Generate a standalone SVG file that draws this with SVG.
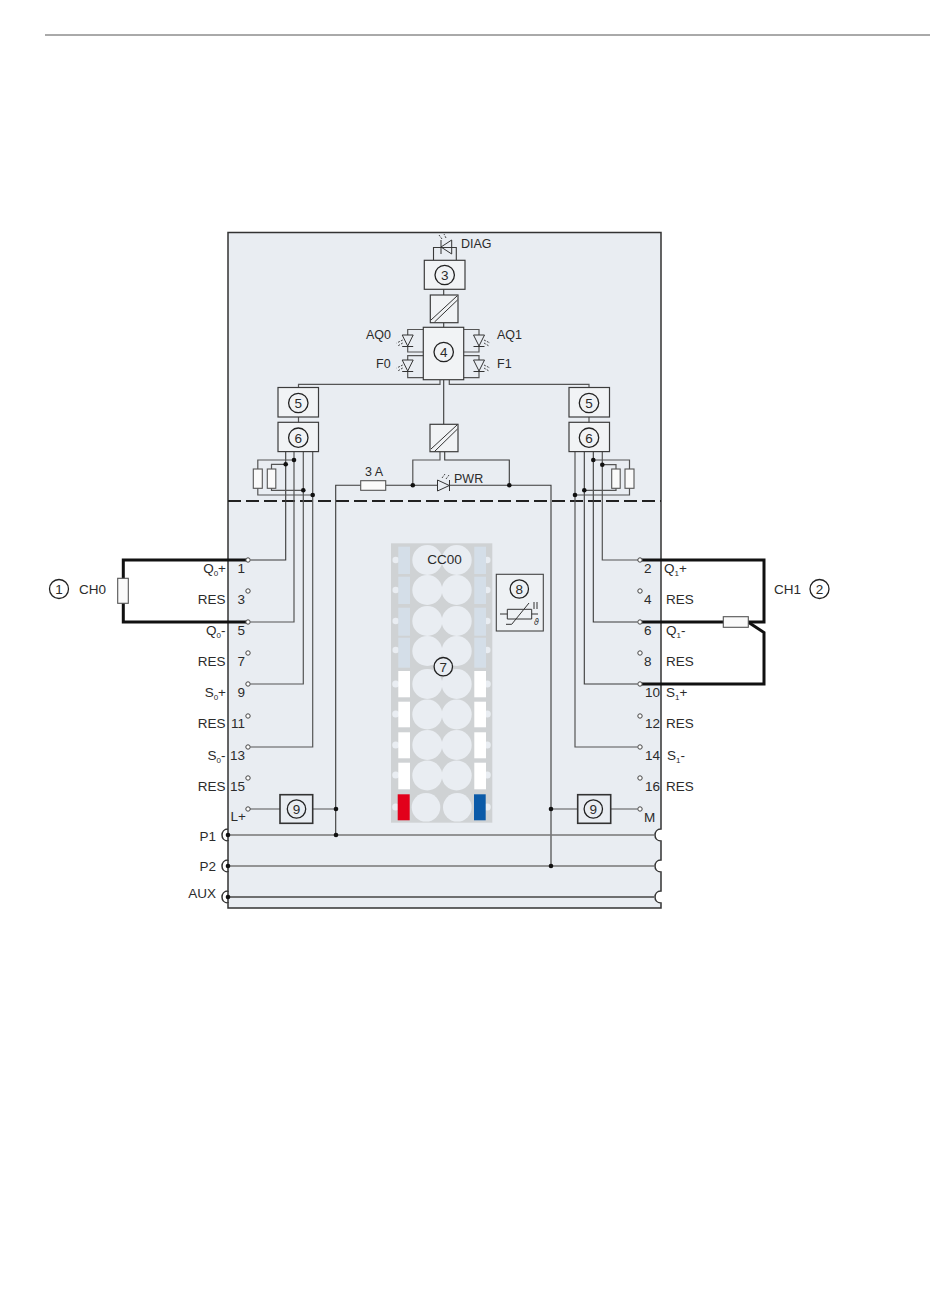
<svg xmlns="http://www.w3.org/2000/svg" width="950" height="1301" viewBox="0 0 950 1301">
<style>
text{font-family:"Liberation Sans",Arial,sans-serif;font-size:13.5px;fill:#2b2b2b}
.e{text-anchor:end}.m{text-anchor:middle}
.sub{font-size:8px}
.box{fill:#f1f3f5;stroke:#3c3c3c;stroke-width:1.2}
.box2{fill:#e9edf2;stroke:#333;stroke-width:1.6}
.w{fill:none;stroke:#555;stroke-width:1.2}
.wd{fill:none;stroke:#3a3a3a;stroke-width:1.1}
.bus{fill:none;stroke:#777;stroke-width:1.6}
.thick{fill:none;stroke:#111;stroke-width:3}
.num{fill:none;stroke:#222;stroke-width:1.3}
.dot{fill:#111}
.t{fill:#fff;stroke:#444;stroke-width:1}
.r{fill:#fafafa;stroke:#555;stroke-width:1.1}
.cc{fill:#e9edf2}
.bb{fill:#d4dee8}
.wb{fill:#fff}
.sym{fill:none;stroke:#333;stroke-width:1}
.ray{fill:none;stroke:#444;stroke-width:1;stroke-dasharray:2 1.2}
</style>
<defs>
<g id="led-l"><path class="sym" d="M-5.500 0H5.500L0 11ZM-5.500 11.500H5.500"/><path class="ray" d="M-5 5l-6 3M-5 8l-5 3"/></g>
<g id="led-r"><path class="sym" d="M-5.500 0H5.500L0 11ZM-5.500 11.500H5.500"/><path class="ray" d="M5 5l6 3M5 8l5 3"/></g>
</defs>
<rect width="950" height="1301" fill="#fff"/>
<path d="M45 35H930" stroke="#555" stroke-width="1" fill="none"/>

<g id="module">
<path d="M228 232.500H661V829C654 829 654 841 661 841V860C654 860 654 872 661 872V891C654 891 654 903 661 903V908H228V903C221 903 221 891 228 891V872C221 872 221 860 228 860V841C221 841 221 829 228 829Z" fill="#e9edf2"/>
<path d="M661 829C652.500 829 652.500 841 661 841M661 860C652.500 860 652.500 872 661 872M661 891C652.500 891 652.500 903 661 903" fill="#fff" stroke="none"/>
<path d="M228 829C220 829 220 841 228 841M228 860C220 860 220 872 228 872M228 891C220 891 220 903 228 903" fill="#fff" stroke="none"/>
<path d="M228 829V232.500H661V829C653 829 653 841 661 841V860C653 860 653 872 661 872V891C653 891 653 903 661 903V908H228V903C220 903 220 891 228 891V872C220 872 220 860 228 860V841C220 841 220 829 228 829" fill="none" stroke="#333" stroke-width="1.5"/>
<path d="M228 829V841M228 860V872M228 891V903" stroke="#333" stroke-width="1.5" fill="none"/>
<path d="M228 501H661" stroke="#222" stroke-width="2" stroke-dasharray="13 5" fill="none"/>
</g>

<g id="connectors">
<path class="thick" d="M248 560H123.300V622H248"/>
<path class="thick" d="M640 560H764V622H640"/>
<path class="thick" d="M748 622L764 632.500V684H640"/>
<path class="wd" d="M285.700 451.500V560H250.500"/>
<path class="w" d="M294 451.500V622H250.500"/>
<path class="w" d="M303.300 451.500V684H250.500"/>
<path class="w" d="M312.700 451.500V747H250.500"/>
<path class="w" d="M294 460H257.800V469M257.800 488V495H312.700"/>
<path class="w" d="M285.700 464.300H271.500V469M271.500 488V490.300H303.300"/>
<path class="w" d="M602.300 451.500V560H642.500"/>
<path class="wd" d="M593.300 451.500V622H637.500"/>
<path class="wd" d="M584.300 451.500V684H637.500"/>
<path class="w" d="M575 451.500V747H637.500"/>
<path class="w" d="M593.300 460H629.500V469M629.500 488V495H575"/>
<path class="w" d="M602.300 464.700H616V469M616 488V490.300H584.300"/>
<path class="wd" d="M443.700 289V295M443.700 322.700V327.500M443.700 380V424.300M433.500 260V247.500H456.300V260"/>
<path class="w" d="M423.500 329.500H407.700V335M407.700 347V352H423.500M423.500 355.700H407.700V360M407.700 371V377.700H423.500"/>
<path class="w" d="M463.700 329.500H479V335M479 347V352H463.700M463.700 355.700H479V360M479 371V377.700H463.700"/>
<path class="w" d="M440 380V384.300H298.500V388M449.300 380V384.300H589V388M298.500 417V422.300M589 417V422.300"/>
<path class="w" d="M440 451.500V460H412.800V485.300"/>
<path class="wd" d="M444.700 451.500V460H509.300V485.300"/>
<path class="wd" d="M335.700 835V485.300H361M385.700 485.300H437.500M449.500 485.300H551V866"/>
<path class="w" d="M250 809H280M312.700 809H336"/>
<path class="w" d="M551 809H577.700M610.700 809H637.500"/>
<path class="bus" d="M228 835H654M228 866H654"/>
<path d="M228 897H654" fill="none" stroke="#444" stroke-width="1.600"/>
<circle class="dot" cx="285.700" cy="464.300" r="2.300"/><circle class="dot" cx="294" cy="460" r="2.300"/><circle class="dot" cx="303.300" cy="490.300" r="2.300"/><circle class="dot" cx="312.700" cy="495" r="2.300"/>
<circle class="dot" cx="593.300" cy="460" r="2.300"/><circle class="dot" cx="602.300" cy="464.700" r="2.300"/><circle class="dot" cx="584.300" cy="490.300" r="2.300"/><circle class="dot" cx="575" cy="495" r="2.300"/>
<circle class="dot" cx="412.800" cy="485.300" r="2.300"/><circle class="dot" cx="509.300" cy="485.300" r="2.300"/>
<circle class="dot" cx="336" cy="809" r="2.300"/><circle class="dot" cx="336" cy="835" r="2.300"/><circle class="dot" cx="551" cy="809" r="2.300"/><circle class="dot" cx="551" cy="866" r="2.300"/>
<circle class="dot" cx="228" cy="835" r="2.300"/><circle class="dot" cx="228" cy="866" r="2.300"/><circle class="dot" cx="228" cy="897" r="2.300"/>
</g>

<g id="terminals-left">
<circle class="t" cx="248" cy="560" r="2.200"/><circle class="t" cx="248" cy="591" r="2.200"/><circle class="t" cx="248" cy="622" r="2.200"/><circle class="t" cx="248" cy="653" r="2.200"/><circle class="t" cx="248" cy="684" r="2.200"/><circle class="t" cx="248" cy="716" r="2.200"/><circle class="t" cx="248" cy="747" r="2.200"/><circle class="t" cx="248" cy="778" r="2.200"/><circle class="t" cx="248" cy="809" r="2.200"/>
<text class="e" x="245" y="573">1</text><text class="e" x="245" y="604">3</text><text class="e" x="245" y="635">5</text><text class="e" x="245" y="666">7</text><text class="e" x="245" y="697">9</text><text class="e" x="245" y="728">11</text><text class="e" x="245" y="760">13</text><text class="e" x="245" y="791">15</text>
<text x="230.500" y="821">L+</text>
<text class="e" x="226" y="573">Q<tspan class="sub" dy="3">0</tspan><tspan dy="-3">+</tspan></text>
<text class="e" x="225.500" y="604">RES</text>
<text class="e" x="225.500" y="635">Q<tspan class="sub" dy="3">0</tspan><tspan dy="-3">-</tspan></text>
<text class="e" x="225.500" y="666">RES</text>
<text class="e" x="226" y="697">S<tspan class="sub" dy="3">0</tspan><tspan dy="-3">+</tspan></text>
<text class="e" x="225.500" y="728">RES</text>
<text class="e" x="225.500" y="760">S<tspan class="sub" dy="3">0</tspan><tspan dy="-3">-</tspan></text>
<text class="e" x="225.500" y="791">RES</text>
<text class="e" x="216" y="841">P1</text><text class="e" x="216" y="871">P2</text><text class="e" x="216" y="898">AUX</text>
</g>

<g id="terminals-right">
<circle class="t" cx="640" cy="560" r="2.200"/><circle class="t" cx="640" cy="591" r="2.200"/><circle class="t" cx="640" cy="622" r="2.200"/><circle class="t" cx="640" cy="653" r="2.200"/><circle class="t" cx="640" cy="684" r="2.200"/><circle class="t" cx="640" cy="716" r="2.200"/><circle class="t" cx="640" cy="747" r="2.200"/><circle class="t" cx="640" cy="778" r="2.200"/><circle class="t" cx="640" cy="809" r="2.200"/>
<text x="644" y="573">2</text><text x="644" y="604">4</text><text x="644" y="635">6</text><text x="644" y="666">8</text><text x="645" y="697">10</text><text x="645" y="728">12</text><text x="645" y="760">14</text><text x="645" y="791">16</text>
<text x="644" y="821.500">M</text>
<text x="664" y="573">Q<tspan class="sub" dy="3">1</tspan><tspan dy="-3">+</tspan></text>
<text x="666" y="604">RES</text>
<text x="666" y="635">Q<tspan class="sub" dy="3">1</tspan><tspan dy="-3">-</tspan></text>
<text x="666" y="666">RES</text>
<text x="666" y="697">S<tspan class="sub" dy="3">1</tspan><tspan dy="-3">+</tspan></text>
<text x="666" y="728">RES</text>
<text x="667" y="760">S<tspan class="sub" dy="3">1</tspan><tspan dy="-3">-</tspan></text>
<text x="666" y="791">RES</text>
</g>

<g id="ch0"><circle class="num" cx="59" cy="589" r="9.500"/><text class="m" x="59" y="594">1</text><text x="79" y="594">CH0</text><rect class="r" x="117.700" y="578.300" width="10.600" height="25"/></g>
<g id="ch1"><text x="774" y="594">CH1</text><circle class="num" cx="819.500" cy="589" r="9.500"/><text class="m" x="819.500" y="594">2</text><rect class="r" x="723.300" y="616.700" width="25" height="10.600"/></g>

<g id="diag"><path class="sym" d="M451.700 240V254L441 247ZM441 240V254"/><path class="ray" d="M442 239l-3 -4M446 238l-2 -4"/><text x="461" y="248" font-size="12.500" style="font-size:12.500px">DIAG</text></g>
<g id="node-3"><rect class="box" x="424.300" y="260.300" width="40.700" height="29"/><circle class="num" cx="444.700" cy="275" r="9.700"/><text class="m" x="444.700" y="280">3</text></g>
<g id="conv-1"><rect class="box" x="430.300" y="295" width="27.700" height="27.700"/><path class="sym" d="M431 320L457 296M434.500 322L457.500 300"/></g>
<g id="node-4"><rect class="box" x="423.300" y="327.300" width="40.400" height="52.400"/><circle class="num" cx="443.700" cy="352" r="9.700"/><text class="m" x="443.700" y="357">4</text></g>
<g id="leds">
<use href="#led-l" x="407.700" y="335"/><use href="#led-l" x="407.700" y="360"/><use href="#led-r" x="479" y="335"/><use href="#led-r" x="479" y="360"/>
<text style="font-size:12.500px" x="366" y="339">AQ0</text><text style="font-size:12.500px" x="376" y="368">F0</text><text style="font-size:12.500px" x="497" y="339">AQ1</text><text style="font-size:12.500px" x="497" y="368">F1</text>
</g>
<g id="node-5-l"><rect class="box" x="278" y="387.500" width="40.500" height="29.500"/><circle class="num" cx="298.300" cy="403" r="9.700"/><text class="m" x="298.300" y="408">5</text></g>
<g id="node-6-l"><rect class="box" x="278" y="422.300" width="40.500" height="29.300"/><circle class="num" cx="298.300" cy="437.700" r="9.700"/><text class="m" x="298.300" y="442.700">6</text></g>
<g id="node-5-r"><rect class="box" x="569" y="387.500" width="40.500" height="29.500"/><circle class="num" cx="589" cy="403" r="9.700"/><text class="m" x="589" y="408">5</text></g>
<g id="node-6-r"><rect class="box" x="569" y="422.300" width="40.500" height="29.300"/><circle class="num" cx="589" cy="437.700" r="9.700"/><text class="m" x="589" y="442.700">6</text></g>
<g id="resistors-l"><rect class="r" x="253.300" y="469" width="9" height="19.300"/><rect class="r" x="267.300" y="469" width="8.500" height="19.300"/></g>
<g id="resistors-r"><rect class="r" x="611.700" y="469" width="8.500" height="19.300"/><rect class="r" x="625" y="469" width="9" height="19.300"/></g>
<g id="conv-2"><rect class="box" x="430" y="424.300" width="28" height="27.400"/><path class="sym" d="M431 449L457 425M434.500 451.500L457.500 429"/></g>
<g id="fuse"><rect class="r" x="360.700" y="480.700" width="25" height="9.600"/><text class="m" x="374" y="476" style="font-size:12.500px">3 A</text></g>
<g id="pwr"><path class="sym" d="M437.500 480V491L449.300 485.500ZM449.500 480V491"/><path class="ray" d="M442 478l3 -4M446 479l3 -4"/><text x="454" y="483" style="font-size:12.500px">PWR</text></g>

<g id="node-7">
<rect x="391" y="543.300" width="101.300" height="279.400" fill="#cfd2d4"/>
<g class="cc">
<circle cx="395.700" cy="560" r="3.200"/><circle cx="395.700" cy="590" r="3.200"/><circle cx="395.700" cy="621" r="3.200"/><circle cx="395.700" cy="650" r="3.200"/><circle cx="395.700" cy="684" r="3.500"/><circle cx="395.700" cy="714" r="3.500"/><circle cx="395.700" cy="745" r="3.500"/><circle cx="395.700" cy="775" r="3.500"/><circle cx="395.700" cy="807" r="3.500"/>
<circle cx="487.300" cy="560" r="3.200"/><circle cx="487.300" cy="590" r="3.200"/><circle cx="487.300" cy="621" r="3.200"/><circle cx="487.300" cy="650" r="3.200"/><circle cx="487.300" cy="684" r="3.500"/><circle cx="487.300" cy="714" r="3.500"/><circle cx="487.300" cy="745" r="3.500"/><circle cx="487.300" cy="775" r="3.500"/><circle cx="487.300" cy="807" r="3.500"/>
<circle cx="427.300" cy="560" r="15"/><circle cx="456.700" cy="560" r="15"/><circle cx="427.300" cy="590" r="15"/><circle cx="456.700" cy="590" r="15"/><circle cx="427.300" cy="621" r="15"/><circle cx="456.700" cy="621" r="15"/><circle cx="427.300" cy="651" r="15"/><circle cx="456.700" cy="651" r="15"/><circle cx="427.300" cy="684" r="15"/><circle cx="456.700" cy="684" r="15"/><circle cx="427.300" cy="714.500" r="15"/><circle cx="456.700" cy="714.500" r="15"/><circle cx="427.300" cy="745" r="15"/><circle cx="456.700" cy="745" r="15"/><circle cx="427.300" cy="775.500" r="15"/><circle cx="456.700" cy="775.500" r="15"/><circle cx="426" cy="807.300" r="14.300"/><circle cx="457.300" cy="807.300" r="14.300"/>
</g>
<g class="bb">
<rect x="398.300" y="546.700" width="11.700" height="27.300"/><rect x="398.300" y="576.700" width="11.700" height="27.300"/><rect x="398.300" y="607.700" width="11.700" height="28"/><rect x="398.300" y="637.700" width="11.700" height="30"/>
<rect x="474.300" y="546.700" width="11.700" height="27.300"/><rect x="474.300" y="576.700" width="11.700" height="27.300"/><rect x="474.300" y="607.700" width="11.700" height="28"/><rect x="474.300" y="637.700" width="11.700" height="30"/>
</g>
<g class="wb">
<rect x="398.300" y="671" width="11.700" height="26.300"/><rect x="398.300" y="701.700" width="11.700" height="25.600"/><rect x="398.300" y="732.300" width="11.700" height="26"/><rect x="398.300" y="762.700" width="11.700" height="26.600"/>
<rect x="474.300" y="671" width="11.700" height="26.300"/><rect x="474.300" y="701.700" width="11.700" height="25.600"/><rect x="474.300" y="732.300" width="11.700" height="26"/><rect x="474.300" y="762.700" width="11.700" height="26.600"/>
</g>
<rect x="397.700" y="794.300" width="12" height="26" fill="#e2001a"/>
<rect x="474" y="794.300" width="11.700" height="26" fill="#0a5aa8"/>
<text class="m" x="444.500" y="564">CC00</text>
<circle cx="443.300" cy="666.700" r="9.200" fill="#e9edf2" stroke="#222" stroke-width="1.300"/><text class="m" x="443.300" y="671.700">7</text>
</g>

<g id="node-8">
<rect x="496.300" y="574.300" width="47" height="56.700" fill="#eef1f4" stroke="#444" stroke-width="1.100"/>
<circle class="num" cx="519.300" cy="589" r="9.200"/><text class="m" x="519.300" y="594">8</text>
<path class="sym" d="M507.300 609.300H531.700V619H507.300ZM500 614H507.300M531.700 614H538M506 624.300H511.700L529 603M534 602V609M537 602V609"/>
<text x="534" y="625" style="font-size:8px;font-style:italic;font-family:'DejaVu Sans',sans-serif">ϑ</text>
</g>
<g id="node-9-l"><rect x="280" y="794.700" width="32.700" height="28.600" class="box2"/><circle class="num" cx="296.500" cy="809" r="9.200"/><text class="m" x="296.500" y="814">9</text></g>
<g id="node-9-r"><rect x="577.700" y="794.700" width="33" height="28.600" class="box2"/><circle class="num" cx="593.300" cy="809" r="9.200"/><text class="m" x="593.300" y="814">9</text></g>
</svg>
